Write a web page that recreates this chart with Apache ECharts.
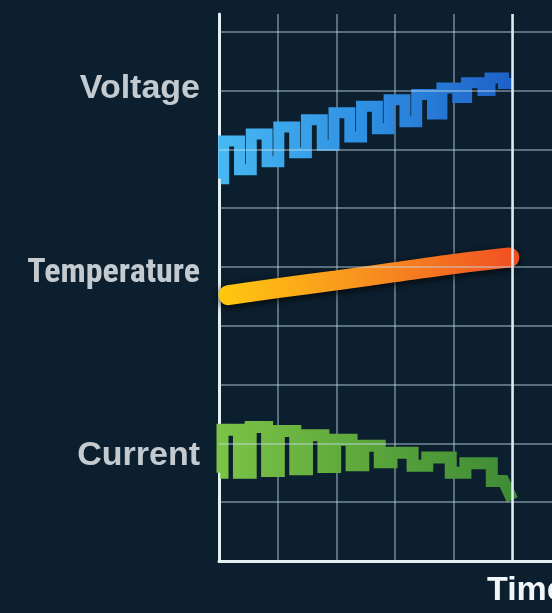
<!DOCTYPE html>
<html>
<head>
<meta charset="utf-8">
<script src="https://cdn.jsdelivr.net/npm/echarts@6/dist/echarts.min.js"></script>
<style>
  html, body { margin: 0; padding: 0; background: #0c1f2f; }
  #chart { width: 552px; height: 613px; }
</style>
</head>
<body>
<div id="chart"></div>
<script>
// ---- data (x in time units, y in level units) ----
const rowNames = ['Voltage', 'Temperature', 'Current'];
const rowLevels = [8.03, 4.89, 1.79];

const voltageEdges = [0.03, 0.08, 0.35, 0.55, 0.82, 1.02, 1.29, 1.49, 1.76, 1.96, 2.23, 2.43, 2.70, 2.90, 3.17, 3.37, 3.64, 3.80, 4.07, 4.22, 4.50, 4.62, 4.85, 5.03];
const voltageLevels = [6.50, 7.14, 6.65, 7.26, 6.79, 7.38, 6.94, 7.50, 7.07, 7.62, 7.21, 7.73, 7.35, 7.84, 7.47, 7.93, 7.60, 8.04, 7.88, 8.13, 8.00, 8.21, 8.12];

const tempX = [0.16, 1, 2, 3, 4, 4.95];
const tempY = [4.52, 4.64, 4.77, 4.91, 5.05, 5.16];

const currentEdges = [0.02, 0.06, 0.34, 0.54, 0.82, 1.02, 1.30, 1.50, 1.78, 1.98, 2.26, 2.46, 2.74, 2.94, 3.30, 3.55, 3.95, 4.20, 4.65, 4.85];
const currentLevels = [1.50, 2.23, 1.50, 2.28, 1.53, 2.21, 1.56, 2.14, 1.60, 2.06, 1.63, 1.96, 1.68, 1.84, 1.62, 1.76, 1.50, 1.66, 1.36];
const currentEnd = [5.0, 1.04];

const gridLevels = [1, 2, 3, 4, 5, 6, 7, 8, 9];
const nowMark = 5;

// ---- build step paths from the arrays ----
function stepPoints(edges, levels) {
  const pts = [];
  for (let i = 0; i < levels.length; i++) {
    pts.push([edges[i], levels[i]]);
    pts.push([edges[i + 1], levels[i]]);
  }
  return pts;
}
const voltagePts = stepPoints(voltageEdges, voltageLevels);
const currentPts = stepPoints(currentEdges, currentLevels).concat([currentEnd]);
const tempPts = tempX.map((x, i) => [x, tempY[i]]);

const gridColor = 'rgba(200,225,238,0.55)';
const textColor = '#f1f6f9';
const labelFont = '"Liberation Sans", Arial, sans-serif';
const narrowFont = '"Liberation Sans Narrow", "Arial Narrow", "Roboto Condensed", sans-serif';

const chart = echarts.init(document.getElementById('chart'), null, { renderer: 'canvas' });

const option = {
  backgroundColor: '#0c1f2f',
  animation: false,
  grid: { left: 219, right: -19, top: 14, bottom: 52, containLabel: false, outerBoundsMode: 'none' },
  xAxis: {
    type: 'value', min: 0, max: 6, interval: 1,
    axisLine: { show: true, lineStyle: { color: '#e4f0f4', width: 3 } },
    axisTick: { show: false },
    axisLabel: { show: false },
    splitLine: { show: true, lineStyle: { color: gridColor, width: 1.5 } },
    name: 'Time',
    nameLocation: 'end',
    nameGap: -84,
    nameTextStyle: {
      color: textColor, fontSize: 34, fontWeight: 'bold', fontFamily: labelFont,
      verticalAlign: 'top', align: 'left', padding: [13, 0, 0, 0]
    }
  },
  yAxis: {
    type: 'value', min: 0, max: 9.3,
    axisLine: { show: true, lineStyle: { color: '#e4f0f4', width: 3 } },
    axisTick: { show: false },
    axisLabel: { show: false },
    splitLine: { show: false }
  },
  series: [
    {
      name: 'labels',
      type: 'scatter',
      z: 1,
      silent: true,
      clip: false,
      symbolSize: 0,
      data: rowNames.map((n, i) => ({
        name: n,
        value: [0, rowLevels[i]],
        label: n === 'Temperature' ? { fontFamily: narrowFont } : {}
      })),
      label: {
        show: true, position: 'left', distance: 19, formatter: '{b}',
        color: textColor, fontSize: 34, fontWeight: 'bold', fontFamily: labelFont
      },
      markLine: {
        silent: true,
        symbol: ['none', 'none'],
        label: { show: false },
        lineStyle: { color: gridColor, width: 1.5, type: 'solid' },
        data: gridLevels.map(v => ({ yAxis: v })).concat([
          { xAxis: nowMark, lineStyle: { color: '#dcebf0', width: 2.5, type: 'solid' } }
        ])
      }
    },
    {
      name: 'Voltage',
      type: 'line',
      z: 3,
      clip: false,
      showSymbol: false,
      data: voltagePts,
      lineStyle: {
        width: 11, cap: 'butt', join: 'miter',
        color: { type: 'linear', x: 0, y: 0, x2: 1, y2: 0, colorStops: [
          { offset: 0, color: '#48b9f2' },
          { offset: 0.5, color: '#2e8fe2' },
          { offset: 1, color: '#1d5ec6' }
        ] }
      }
    },
    {
      name: 'Temperature',
      type: 'line',
      z: 3,
      clip: false,
      showSymbol: false,
      smooth: 0.3,
      data: tempPts,
      lineStyle: {
        width: 20, cap: 'round',
        shadowColor: 'rgba(0,0,0,0.85)', shadowBlur: 8, shadowOffsetY: 2,
        color: { type: 'linear', x: 0, y: 0, x2: 1, y2: 0, colorStops: [
          { offset: 0, color: '#ffc80f' },
          { offset: 0.45, color: '#f8961e' },
          { offset: 1, color: '#f04e23' }
        ] }
      }
    },
    {
      name: 'Current',
      type: 'line',
      z: 3,
      clip: false,
      showSymbol: false,
      data: currentPts,
      lineStyle: {
        width: 12, cap: 'butt', join: 'miter',
        color: { type: 'linear', x: 0, y: 0, x2: 1, y2: 0, colorStops: [
          { offset: 0, color: '#7cc447' },
          { offset: 0.5, color: '#5ca63c' },
          { offset: 1, color: '#3e8a35' }
        ] }
      }
    }
  ]
};
chart.setOption(option);
</script>
</body>
</html>
